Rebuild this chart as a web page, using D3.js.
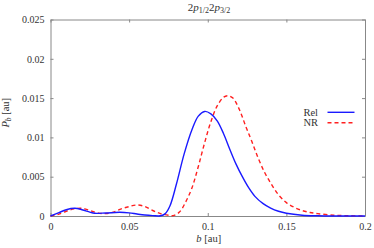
<!DOCTYPE html>
<html>
<head>
<meta charset="utf-8">
<script src="https://cdn.jsdelivr.net/npm/d3@7"></script>
<style>
  body { margin: 0; background: #fff; }
  text { font-family: "Liberation Serif", "DejaVu Serif", serif; fill: #333; }
</style>
</head>
<body>
<div id="chart"></div>
<script>
// data
var relB = [0, 0.005, 0.01, 0.0155, 0.02, 0.025, 0.028, 0.035, 0.044, 0.05, 0.055, 0.06, 0.065, 0.07, 0.073, 0.076, 0.08, 0.085, 0.09, 0.094, 0.098, 0.102, 0.106, 0.11, 0.114, 0.118, 0.122, 0.126, 0.13, 0.135, 0.14, 0.145, 0.15, 0.16, 0.17, 0.18, 0.2];
var relP = [0, 0.0004, 0.0008, 0.00098, 0.0008, 0.0005, 0.00035, 0.00038, 0.00047, 0.0004, 0.00025, 0.00012, 0.00005, 0.00003, 0.0003, 0.0013, 0.004, 0.0079, 0.011, 0.0127, 0.0133, 0.013, 0.0121, 0.0105, 0.0085, 0.0066, 0.005, 0.0036, 0.0025, 0.0016, 0.001, 0.0006, 0.00035, 0.0001, 0.00003, 0, 0];

var nrB = [0, 0.005, 0.01, 0.015, 0.02, 0.025, 0.03, 0.035, 0.04, 0.045, 0.05, 0.055, 0.06, 0.065, 0.07, 0.075, 0.078, 0.082, 0.086, 0.09, 0.094, 0.098, 0.102, 0.106, 0.11, 0.113, 0.116, 0.12, 0.124, 0.128, 0.132, 0.136, 0.14, 0.145, 0.15, 0.155, 0.16, 0.165, 0.17, 0.18, 0.19, 0.2];
var nrP = [0, 0.0002, 0.0006, 0.0009, 0.00098, 0.0007, 0.0004, 0.0003, 0.0005, 0.0009, 0.0012, 0.0014, 0.0012, 0.0007, 0.0003, 0.0001, 0.00005, 0.0005, 0.0018, 0.0036, 0.0063, 0.0093, 0.012, 0.014, 0.0151, 0.0153, 0.015, 0.0136, 0.0115, 0.0095, 0.0074, 0.0056, 0.0042, 0.0027, 0.0017, 0.0011, 0.0007, 0.00045, 0.0003, 0.0001, 0.00003, 0];

var xTicks = [0, 0.05, 0.1, 0.15, 0.2];
var xTickLabels = ["0", "0.05", "0.1", "0.15", "0.2"];
var yTicks = [0, 0.005, 0.01, 0.015, 0.02, 0.025];
var yTickLabels = ["0", "0.005", "0.01", "0.015", "0.02", "0.025"];

var svgWidth = 374;
var svgHeight = 248;
var margin = { top: 19.5, right: 9, bottom: 32, left: 50.5 };
var chartWidth = svgWidth - margin.left - margin.right;
var chartHeight = svgHeight - margin.top - margin.bottom;

var svg = d3.select("#chart")
  .append("svg")
  .attr("width", svgWidth)
  .attr("height", svgHeight);

var chartGroup = svg.append("g")
  .attr("transform", `translate(${margin.left}, ${margin.top})`);

var xScale = d3.scaleLinear().domain([0, 0.2]).range([0, chartWidth]);
var yScale = d3.scaleLinear().domain([0, 0.025]).range([chartHeight, 0]);

// axes, ticks pointing inward, mirrored on top and right
var bottomAxis = d3.axisBottom(xScale).tickValues(xTicks)
  .tickFormat((d, i) => xTickLabels[i]).tickSizeInner(-3).tickSizeOuter(0).tickPadding(7);
var topAxis = d3.axisTop(xScale).tickValues(xTicks).tickFormat("").tickSizeInner(-3).tickSizeOuter(0);
var leftAxis = d3.axisLeft(yScale).tickValues(yTicks)
  .tickFormat((d, i) => yTickLabels[i]).tickSizeInner(-3).tickSizeOuter(0).tickPadding(6);
var rightAxis = d3.axisRight(yScale).tickValues(yTicks).tickFormat("").tickSizeInner(-3).tickSizeOuter(0);

chartGroup.append("g").attr("transform", `translate(0, ${chartHeight})`).call(bottomAxis);
chartGroup.append("g").call(topAxis);
chartGroup.append("g").call(leftAxis);
chartGroup.append("g").attr("transform", `translate(${chartWidth}, 0)`).call(rightAxis);

chartGroup.selectAll(".domain").attr("stroke", "#888");
chartGroup.selectAll(".tick line").attr("stroke", "#888");
chartGroup.selectAll(".tick text")
  .attr("font-size", 10)
  .attr("fill", "#333");

// curves
var line = d3.line()
  .x(d => xScale(d[0]))
  .y(d => yScale(Math.max(0, d[1])))
  .curve(d3.curveCatmullRom.alpha(0.5));

var relData = relB.map((b, i) => [b, relP[i]]);
var nrData = nrB.map((b, i) => [b, nrP[i]]);

chartGroup.append("path")
  .datum(nrData)
  .attr("d", line)
  .attr("fill", "none")
  .attr("stroke", "#ff2020")
  .attr("stroke-width", 1.4)
  .attr("stroke-dasharray", "4,3");

chartGroup.append("path")
  .datum(relData)
  .attr("d", line)
  .attr("fill", "none")
  .attr("stroke", "#1a1aff")
  .attr("stroke-width", 1.4);

// legend
var legend = svg.append("g");
legend.append("text").attr("x", 318).attr("y", 115.5).attr("text-anchor", "end")
  .attr("font-size", 10.5).text("Rel");
legend.append("line").attr("x1", 327.5).attr("x2", 354.5).attr("y1", 112.3).attr("y2", 112.3)
  .attr("stroke", "#1a1aff").attr("stroke-width", 1.4);
legend.append("text").attr("x", 318).attr("y", 126).attr("text-anchor", "end")
  .attr("font-size", 10.5).text("NR");
legend.append("line").attr("x1", 327.5).attr("x2", 354.5).attr("y1", 122.7).attr("y2", 122.7)
  .attr("stroke", "#ff2020").attr("stroke-width", 1.4).attr("stroke-dasharray", "4,3");

// title 2p_{1/2}2p_{3/2}
var title = svg.append("text")
  .attr("x", 209).attr("y", 11)
  .attr("text-anchor", "middle")
  .attr("font-size", 11);
title.append("tspan").text("2");
title.append("tspan").attr("font-style", "italic").text("p");
title.append("tspan").attr("font-size", 8).attr("dy", 2).text("1/2");
title.append("tspan").attr("dy", -2).text("2");
title.append("tspan").attr("font-style", "italic").text("p");
title.append("tspan").attr("font-size", 8).attr("dy", 2).text("3/2");

// axis labels
var yLabel = svg.append("text")
  .attr("transform", `translate(9, ${margin.top + chartHeight / 2 - 5}) rotate(-90)`)
  .attr("text-anchor", "middle")
  .attr("font-size", 10.5);
yLabel.append("tspan").attr("font-style", "italic").text("P");
yLabel.append("tspan").attr("font-style", "italic").attr("font-size", 7.5).attr("dy", 2).text("b");
yLabel.append("tspan").attr("dy", -2).text(" [au]");

var xLabel = svg.append("text")
  .attr("x", margin.left + chartWidth / 2 + 1)
  .attr("y", 242)
  .attr("text-anchor", "middle")
  .attr("font-size", 10.5);
xLabel.append("tspan").attr("font-style", "italic").text("b");
xLabel.append("tspan").text(" [au]");
</script>
</body>
</html>
